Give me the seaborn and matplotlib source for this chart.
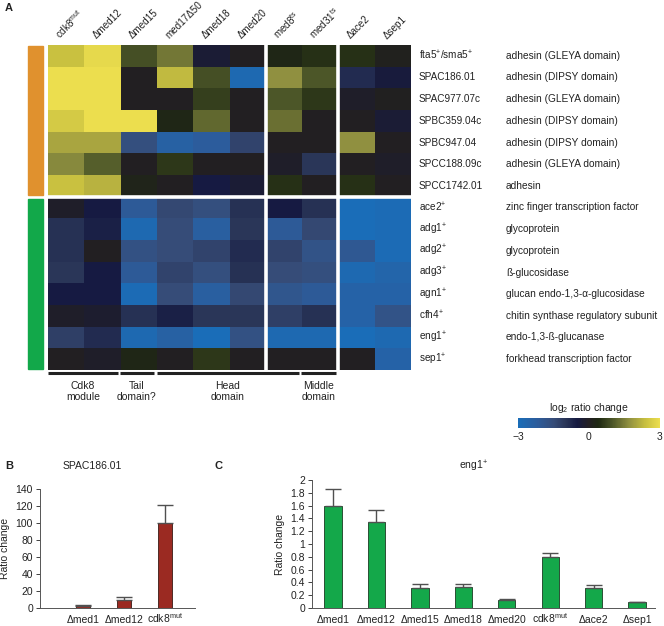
import numpy as np
import pandas as pd
import seaborn as sns
import matplotlib.pyplot as plt
from matplotlib.colors import LinearSegmentedColormap
from matplotlib.patches import Rectangle
from matplotlib.cm import ScalarMappable
from matplotlib.colors import Normalize

# ---- data ----
strains = ['cdk8$^{\\rm mut}$', 'Δmed12', 'Δmed15', 'med17Δ50', 'Δmed18',
           'Δmed20', 'med8$^{\\rm ts}$', 'med31$^{\\rm ts}$', 'Δace2', 'Δsep1']
adhesin_genes = ['fta5$^{+}$/sma5$^{+}$', 'SPAC186.01', 'SPAC977.07c', 'SPBC359.04c',
                 'SPBC947.04', 'SPCC188.09c', 'SPCC1742.01']
adhesin_desc = ['adhesin (GLEYA domain)', 'adhesin (DIPSY domain)', 'adhesin (GLEYA domain)',
                'adhesin (DIPSY domain)', 'adhesin (DIPSY domain)', 'adhesin (GLEYA domain)',
                'adhesin']
sep_genes = ['ace2$^{+}$', 'adg1$^{+}$', 'adg2$^{+}$', 'adg3$^{+}$', 'agn1$^{+}$',
             'cfh4$^{+}$', 'eng1$^{+}$', 'sep1$^{+}$']
sep_desc = ['zinc finger transcription factor', 'glycoprotein', 'glycoprotein',
            'ß-glucosidase', 'glucan endo-1,3-α-glucosidase',
            'chitin synthase regulatory subunit', 'endo-1,3-ß-glucanase',
            'forkhead transcription factor']
adhesin_log2 = [
    [2.4, 2.9, 0.9, 1.4, -0.3, 0.0, 0.3, 0.5, 0.5, 0.1],
    [3.0, 3.0, 0.0, 2.3, 0.9, -2.8, 1.7, 1.0, -0.8, -0.4],
    [3.0, 3.0, 0.0, 0.0, 0.7, 0.0, 1.0, 0.6, -0.1, 0.05],
    [2.6, 3.0, 3.0, 0.3, 1.2, 0.0, 1.3, 0.0, 0.0, -0.3],
    [2.0, 2.0, -1.6, -2.4, -2.2, -1.3, 0.0, 0.0, 1.7, 0.0],
    [1.6, 1.1, 0.0, 0.6, 0.0, 0.0, -0.1, -1.0, 0.0, -0.1],
    [2.4, 2.2, 0.2, 0.0, -0.5, -0.3, 0.5, 0.0, 0.5, 0.0],
]
sep_log2 = [
    [-0.1, -0.5, -2.1, -1.4, -1.6, -0.9, -0.5, -0.9, -3.0, -2.9],
    [-0.9, -0.6, -2.8, -1.5, -2.3, -1.0, -2.1, -1.4, -3.0, -2.9],
    [-0.9, 0.0, -1.7, -1.5, -1.3, -0.8, -1.3, -1.8, -2.0, -2.9],
    [-1.0, -0.5, -2.1, -1.3, -1.6, -0.9, -1.5, -1.6, -2.8, -2.6],
    [-0.5, -0.5, -2.9, -1.5, -2.3, -1.4, -1.9, -2.1, -2.5, -2.5],
    [-0.1, -0.2, -0.9, -0.6, -1.0, -1.0, -1.2, -0.9, -2.5, -1.8],
    [-1.2, -0.8, -2.8, -2.4, -3.0, -1.7, -2.8, -2.8, -3.0, -2.8],
    [0.0, -0.1, 0.3, 0.0, 0.6, 0.0, 0.0, 0.0, 0.0, -2.5],
]
groups = ['Cdk8\nmodule', 'Tail\ndomain?', 'Head\ndomain', 'Middle\ndomain']

b_strains = ['Δmed1', 'Δmed12', 'cdk8$^{\\rm mut}$']
b_ratio = [2.5, 10.0, 100.0]
b_err = [0.6, 2.5, 21.0]

c_strains = ['Δmed1', 'Δmed12', 'Δmed15', 'Δmed18', 'Δmed20', 'cdk8$^{\\rm mut}$', 'Δace2', 'Δsep1']
c_ratio = [1.59, 1.35, 0.31, 0.33, 0.12, 0.79, 0.31, 0.09]
c_err = [0.27, 0.18, 0.06, 0.05, 0.02, 0.07, 0.05, 0.01]

# ---- style ----
sns.set_style('ticks')
plt.rcParams['font.family'] = ['Liberation Sans', 'DejaVu Sans']
plt.rcParams['mathtext.fontset'] = 'custom'
plt.rcParams['mathtext.rm'] = 'Liberation Sans'
plt.rcParams['mathtext.it'] = 'Liberation Sans:italic'
plt.rcParams['text.color'] = '#222222'
plt.rcParams['axes.labelcolor'] = '#222222'
plt.rcParams['xtick.color'] = '#222222'
plt.rcParams['ytick.color'] = '#222222'

W, H = 664, 626
fig = plt.figure(figsize=(W / 100, H / 100), dpi=100)


def px(x0, y0, x1, y1):
    return [x0 / W, 1 - y1 / H, (x1 - x0) / W, (y1 - y0) / H]


cmap = LinearSegmentedColormap.from_list('bk_yl', [
    (0.0, '#1a6db8'), (0.8 / 6, '#2c5c9c'), (1.5 / 6, '#364c78'), (2.0 / 6, '#2a3658'),
    (2.5 / 6, '#161a42'), (0.5, '#221f22'), (3.4 / 6, '#1e2812'), (4.0 / 6, '#4c5628'),
    (4.7 / 6, '#909040'), (5.4 / 6, '#c8c040'), (1.0, '#ecde4e')])

# ---- panel A heatmap ----
df = pd.DataFrame(adhesin_log2 + sep_log2, index=adhesin_genes + sep_genes, columns=strains)
ax = fig.add_axes(px(48, 45, 411, 370))
sns.heatmap(df, ax=ax, cmap=cmap, vmin=-3, vmax=3, cbar=False,
            xticklabels=False, yticklabels=False)
ax.axvline(6, color='white', lw=2.6)
ax.axvline(8, color='white', lw=2.6)
ax.axhline(7, color='white', lw=2.6)

for i, s in enumerate(strains):
    ax.text(i + 0.38, -0.2, s, rotation=45, rotation_mode='anchor',
            ha='left', va='bottom', fontsize=7.1)
genes = adhesin_genes + sep_genes
descs = adhesin_desc + sep_desc
for i, (g, d) in enumerate(zip(genes, descs)):
    ax.text(10.22, i + 0.5, g, va='center', ha='left', fontsize=7.2)
    ax.text(12.62, i + 0.5, d, va='center', ha='left', fontsize=7.3)

ax.add_patch(Rectangle((-0.55, 0.05), 0.41, 6.87, color='#e0912e', clip_on=False))
ax.add_patch(Rectangle((-0.55, 7.1), 0.41, 7.85, color='#12a84a', clip_on=False))

spans = [(0.0, 1.93), (1.97, 2.93), (3.0, 6.92), (6.97, 7.93)]
label_x = [0.96, 2.45, 4.96, 7.44]
for (a, b), lx, g in zip(spans, label_x, groups):
    ax.plot([a, b], [15.14, 15.14], color='#222222', lw=2.2, solid_capstyle='butt', clip_on=False)
    ax.text(lx, 15.5, g, ha='center', va='top', fontsize=7.5, linespacing=1.15)

# colorbar
cax = fig.add_axes(px(518, 418, 660, 428))
sm = ScalarMappable(norm=Normalize(-3, 3), cmap=cmap)
cb = fig.colorbar(sm, cax=cax, orientation='horizontal', ticks=[-3, 0, 3])
cb.outline.set_visible(False)
cax.set_xticklabels(['\u22123', '0', '3'])
cax.tick_params(length=0, labelsize=7.5, pad=3)
cax.set_title('log$_2$ ratio change', fontsize=7.5, pad=5)


def style_bars(a):
    a.set_ylabel('Ratio change', fontsize=7.5, labelpad=4)
    a.tick_params(axis='y', labelsize=7.5, length=3, width=0.6, pad=2)
    a.tick_params(axis='x', labelsize=7.5, length=0, pad=11)
    for lab in a.get_xticklabels():
        lab.set_verticalalignment('baseline')
    sns.despine(ax=a)
    for sp in a.spines.values():
        sp.set_linewidth(0.7)
        sp.set_color('#555555')


# ---- panel B ----
axb = fig.add_axes(px(40, 489, 195, 608))
sns.barplot(x=b_strains, y=b_ratio, ax=axb, color='#9b2a22', errorbar=None,
            width=0.34, edgecolor='#3a1a14', linewidth=0.6, saturation=1)
axb.errorbar(range(3), b_ratio, yerr=[np.zeros(3), b_err], fmt='none',
             ecolor='#505050', elinewidth=1, capsize=6, capthick=1)
axb.set_ylim(0, 140)
axb.set_yticks(range(0, 141, 20))
axb.set_xlim(-1.05, 2.73)
style_bars(axb)

# ---- panel C ----
axc = fig.add_axes(px(312, 480, 655, 608))
sns.barplot(x=c_strains, y=c_ratio, ax=axc, color='#14a84a', errorbar=None,
            width=0.4, edgecolor='#1a3a22', linewidth=0.6, saturation=1)
axc.errorbar(range(8), c_ratio, yerr=[np.zeros(8), c_err], fmt='none',
             ecolor='#505050', elinewidth=1, capsize=6, capthick=1)
axc.set_ylim(0, 2)
cticks = np.round(np.arange(0, 2.01, 0.2), 1)
axc.set_yticks(cticks)
axc.set_yticklabels([('%g' % t) for t in cticks])
axc.set_xlim(-0.48, 7.41)
style_bars(axc)

# titles and panel letters
fig.text(92 / W, 1 - 466 / H, 'SPAC186.01', ha='center', va='center', fontsize=7.5)
fig.text(474 / W, 1 - 466 / H, 'eng1$^{+}$', ha='center', va='center', fontsize=7.5)
fig.text(5 / W, 1 - 8 / H, 'A', fontsize=8, fontweight='bold', va='center')
fig.text(5 / W, 1 - 466 / H, 'B', fontsize=8, fontweight='bold', va='center')
fig.text(215 / W, 1 - 466 / H, 'C', fontsize=8, fontweight='bold', va='center')

fig.savefig('out.png', dpi=100)
